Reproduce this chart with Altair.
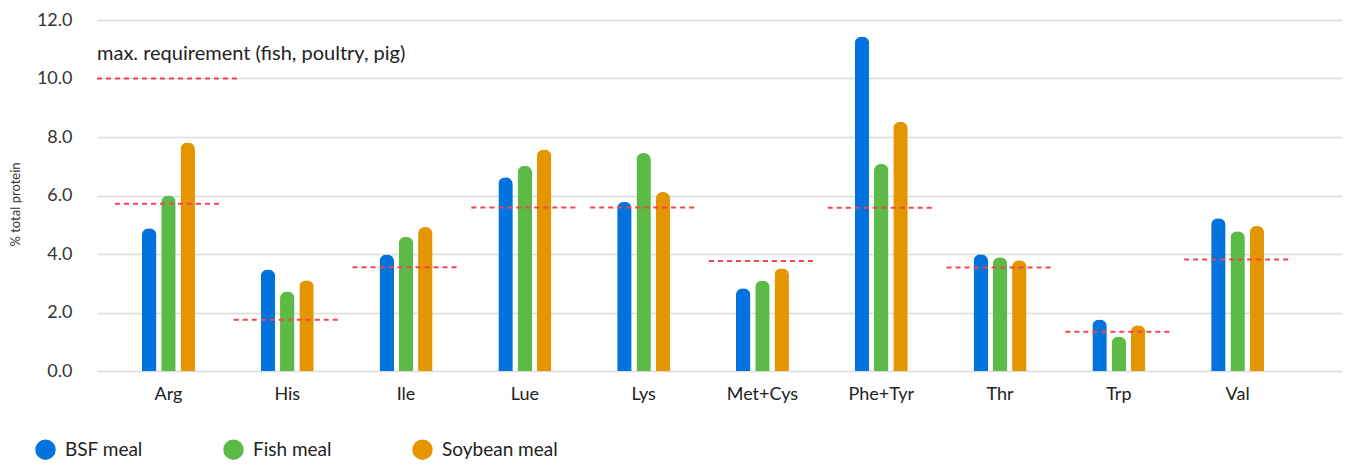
import pandas as pd
import altair as alt

# amino acid content, % of total protein
amino_acids = ['Arg', 'His', 'Ile', 'Lue', 'Lys', 'Met+Cys', 'Phe+Tyr', 'Thr', 'Trp', 'Val']
meals = ['BSF meal', 'Fish meal', 'Soybean meal']
bsf_meal = [4.88, 3.47, 3.98, 6.62, 5.79, 2.83, 11.44, 3.99, 1.76, 5.22]
fish_meal = [6.00, 2.72, 4.59, 7.02, 7.45, 3.09, 7.08, 3.89, 1.18, 4.78]
soybean_meal = [7.81, 3.10, 4.92, 7.57, 6.12, 3.51, 8.52, 3.79, 1.56, 4.96]
# max. requirement (fish, poultry, pig)
requirement = [5.72, 1.75, 3.55, 5.59, 5.59, 3.76, 5.58, 3.54, 1.34, 3.81]
y_ticks = [0, 2, 4, 6, 8, 10, 12]
note = 'max. requirement (fish, poultry, pig)'
note_level = 10

colors = ['#0073de', '#5cba46', '#e59500']
red = '#f0464e'
font = 'Lato'

## long table for the grouped bars
rows = []
for meal, vals in zip(meals, [bsf_meal, fish_meal, soybean_meal]):
    for aa, v in zip(amino_acids, vals):
        rows.append({'amino': aa, 'meal': meal, 'value': v})
bars_df = pd.DataFrame(rows)
req_df = pd.DataFrame({'amino': amino_acids, 'req': requirement})
note_df = pd.DataFrame({'note': [note], 'level': [note_level]})

x_scale = alt.Scale(paddingInner=0.554, paddingOuter=0.517, align=0.366, round=False)

bars = alt.Chart(bars_df).mark_bar(cornerRadiusTopLeft=7, cornerRadiusTopRight=7).encode(
    x=alt.X('amino:N', sort=amino_acids, title=None, scale=x_scale,
            axis=alt.Axis(labelAngle=0, ticks=False, domain=False, grid=False,
                          labelPadding=14, labelFontSize=18, labelColor='#222')),
    xOffset=alt.XOffset('meal:N', sort=meals, scale=alt.Scale(paddingInner=0.25, paddingOuter=0)),
    y=alt.Y('value:Q', title='% total protein', scale=alt.Scale(domain=[0, 12], nice=False),
            axis=alt.Axis(values=y_ticks, format='.1f', ticks=False, domain=False,
                          labelPadding=25, labelFontSize=18, labelColor='#333',
                          gridColor='#dcdcdc', gridWidth=1.5,
                          titleFontSize=13, titleFontWeight='normal', titleColor='#333',
                          titlePadding=14, titleY=184)),
    color=alt.Color('meal:N', sort=meals, scale=alt.Scale(domain=meals, range=colors),
                    legend=alt.Legend(title=None, orient='none', legendX=-62, legendY=419,
                                      direction='horizontal', symbolType='circle',
                                      symbolSize=420, symbolStrokeWidth=0, symbolOpacity=1,
                                      labelFontSize=19, labelOffset=9, labelColor='#222',
                                      columnPadding=80))
)

# dashed requirement line over each group
req_lines = alt.Chart(req_df).mark_rule(
    color=red, strokeWidth=2, strokeDash=[5, 4], xOffset=-27, x2Offset=27
).encode(
    x=alt.X('amino:N', sort=amino_acids, bandPosition=0),
    x2=alt.X2('amino', bandPosition=1),
    y='req:Q'
)

# legend-ish note at top left
note_line = alt.Chart(note_df).mark_rule(color=red, strokeWidth=2, strokeDash=[5, 4]).encode(
    x=alt.value(0), x2=alt.value(144), y='level:Q'
)
note_text = alt.Chart(note_df).mark_text(align='left', baseline='middle', fontSize=20,
                                         color='#222', font=font, dy=-25).encode(
    x=alt.value(0), y='level:Q', text='note:N'
)

chart = alt.layer(bars, req_lines, note_line, note_text).properties(
    width=1245, height=351,
    padding={'left': 1, 'top': 3, 'right': 0, 'bottom': 0}
).configure(
    font=font
).configure_view(
    stroke=None
)

chart.save("out.html", embed_options={"renderer": "svg", "actions": False})
